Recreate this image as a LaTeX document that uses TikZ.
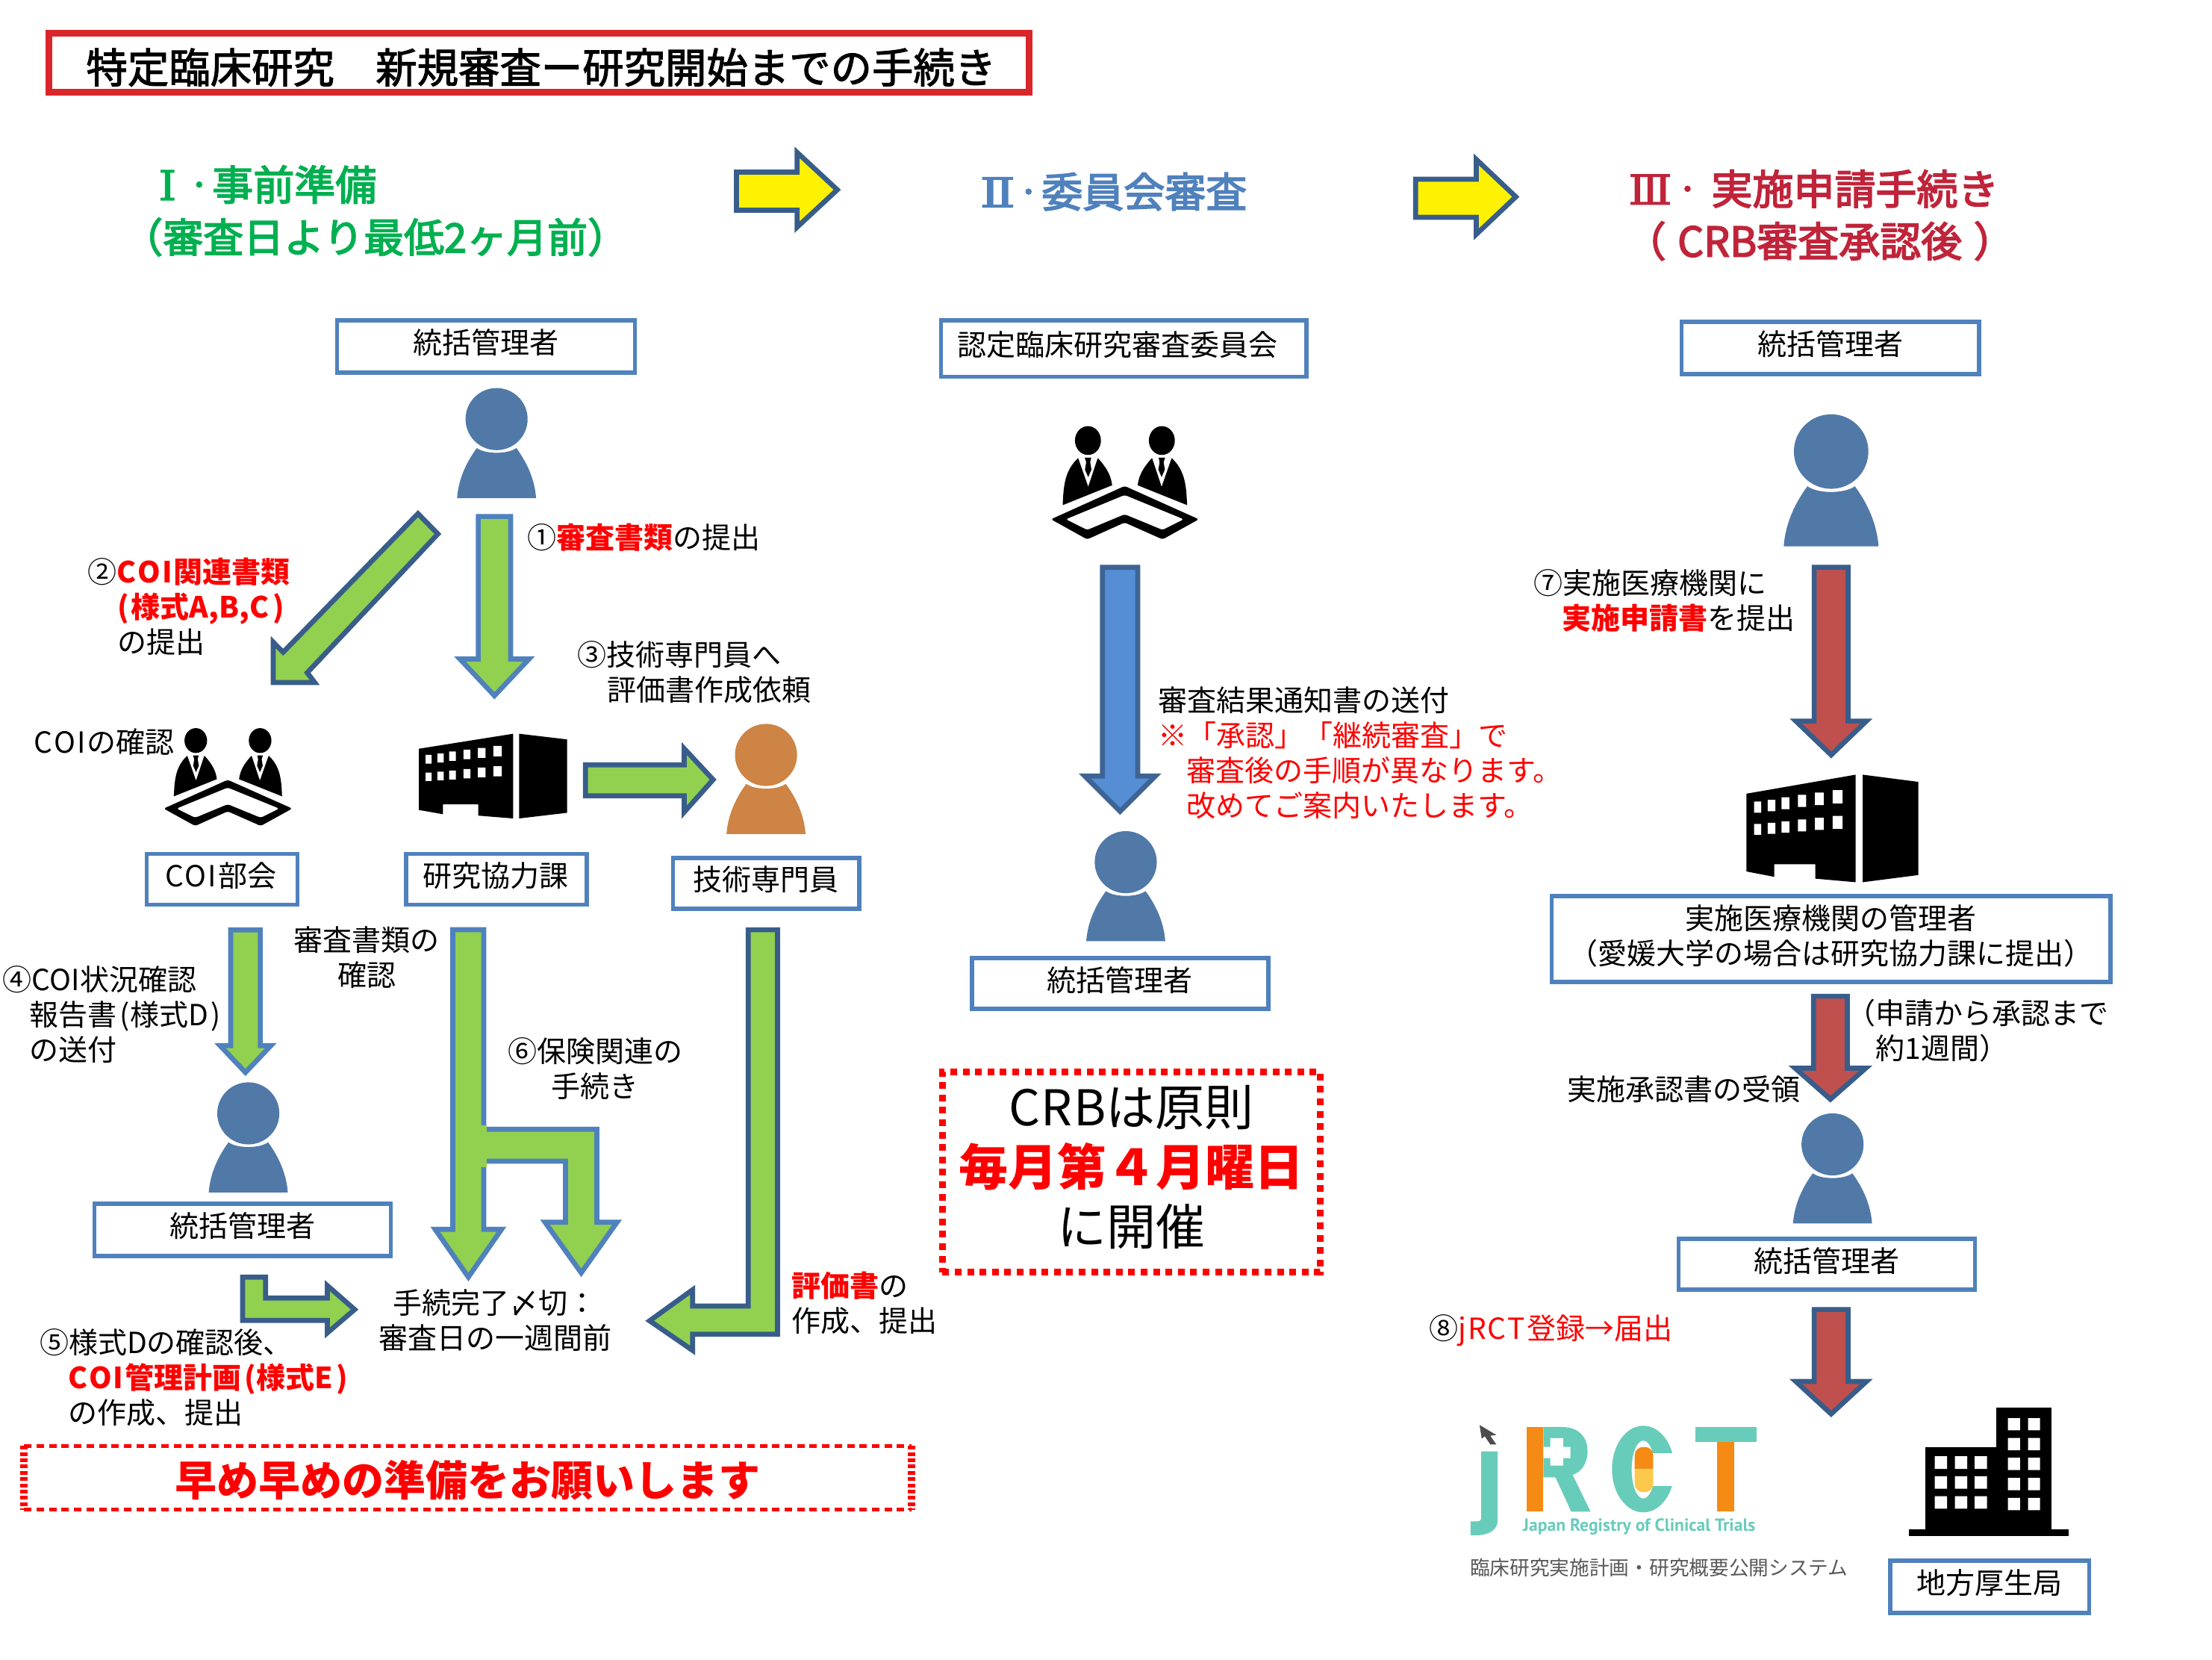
\documentclass[tikz,border=0pt]{standalone}
\usepackage{fontspec}
\setmainfont{Noto Sans CJK JP}
\newfontfamily\logofont{PT Sans}
\newfontfamily\headfont[FakeBold=3]{Noto Sans CJK JP}
\newfontfamily\titlefont[FakeBold=2]{Noto Sans CJK JP}
\newfontfamily\romanfont[FakeBold=2]{DejaVu Serif}
\definecolor{bluestroke}{HTML}{4F81BD}
\definecolor{darkstroke}{HTML}{385D8A}
\definecolor{arrowgreen}{HTML}{92D050}
\definecolor{arrowred}{HTML}{C0504D}
\definecolor{arrowblue}{HTML}{558ED5}
\definecolor{personblue}{HTML}{5079A8}
\definecolor{personorange}{HTML}{CD8444}
\definecolor{headgreen}{HTML}{00B050}
\definecolor{headred}{HTML}{C0243A}
\definecolor{titlered}{HTML}{D9262A}
\definecolor{logoteal}{HTML}{68CCBA}
\definecolor{logoorange}{HTML}{F58A14}
\definecolor{logoyellow}{HTML}{FDC94C}
\newcommand\rb[1]{\textcolor{red}{\textbf{#1}}}
\newcommand\cv{C\kern2pt O\kern2pt I\kern2pt}
\newcommand\hdot{\raisebox{7.6pt}{\fontsize{35pt}{40pt}\selectfont ・}}
\tikzset{
  lbltext/.style={inner sep=0pt,font=\fontsize{39pt}{47pt}\selectfont,text=black},
  headtext/.style={inner sep=0pt,font=\headfont\fontsize{55pt}{66pt}\selectfont,text height=48pt,text depth=7pt},
  ubox/.style={draw=bluestroke,line width=5.5pt,fill=white,inner sep=0pt,align=center,
    font=\fontsize{39pt}{47pt}\selectfont},
  greenarrow/.style={draw=darkstroke,line width=6.7pt,fill=arrowgreen,miter limit=10,line join=miter},
  greenarrowb/.style={draw=bluestroke,line width=6.7pt,fill=arrowgreen,miter limit=10},
  redarrow/.style={draw=darkstroke,line width=6.7pt,fill=arrowred,miter limit=10},
  bluearrow/.style={draw=darkstroke!80!bluestroke,line width=6.7pt,fill=arrowblue,miter limit=10},
  yellowarrow/.style={draw=darkstroke,line width=6.7pt,fill=yellow,miter limit=10},
  hdash/.style={draw=red,line width=5pt,dash pattern=on 10pt off 6.7pt},
  vdash/.style={draw=red,line width=10pt,dash pattern=on 5pt off 3.4pt},
}
% left-aligned and centred labels, y = centre of first line
\newcommand\lbl[4]{\node[lbltext,anchor=north west,align=left,yshift=19.2pt] (#1) at (#2,#3) {\rule{0pt}{34pt}#4};}
\newcommand\clbl[4]{\node[lbltext,anchor=north,align=center,yshift=19.2pt] (#1) at (#2,#3) {\rule{0pt}{34pt}#4};}
% box: name x1 y1 x2 y2 text
\newcommand\bluebox[6]{\node[ubox,minimum width={(#4-#2)*1.8897pt},minimum height={(#5-#3)*1.8897pt}] (#1) at ({(#2+#4)/2},{(#3+#5)/2}) {#6\rule[-13pt]{0pt}{13pt}};}
\newcommand\darrow[7]{\draw[#1] ({#2-#3},#4) -- ({#2+#3},#4) -- ({#2+#3},#5) -- ({#2+#6},#5) -- (#2,#7) -- ({#2-#6},#5) -- ({#2-#3},#5) -- cycle;}
\newcommand\personicon[4]{\begin{scope}[shift={(#1,#2)},scale=#3]
  \fill[#4] (0,0) circle (22);
  \fill[#4] (-28,56) .. controls (-27,42) and (-21,30) .. (-14,20.5) .. controls (-8,25) and (8,25) .. (14,20.5) .. controls (21,30) and (27,42) .. (28,56) -- cycle;
\end{scope}}
\newcommand\meetperson{
  \fill (148,58) ellipse [x radius=52,y radius=58];
  \fill (47,318) .. controls (50,240) and (55,180) .. (107,130) -- (189,130) .. controls (225,170) and (240,200) .. (245,238) -- cycle;
  \fill[white] (109,128) -- (187,128) -- (149,243) -- cycle;
  \fill (135,127) -- (161,127) -- (157,145) -- (162,175) -- (149,205) -- (136,175) -- (141,145) -- cycle;
}
\newcommand\meeting[4]{\begin{scope}[shift={(#1,#2)},xscale=#3,yscale=#4]
  \meetperson
  \begin{scope}[shift={(592,0)},xscale=-1]\meetperson\end{scope}
  \fill[even odd rule,rounded corners=3pt] (295,241) -- (592,375) -- (447,456) -- (295,388) -- (145,456) -- (0,375) -- cycle
    (295,277) -- (59,375) -- (145,418) -- (295,355) -- (447,418) -- (532,375) -- cycle;
\end{scope}}
\newcommand\bldgone[4]{\begin{scope}[shift={(#1,#2)},xscale=#3,yscale=#4]
  \fill (0,10.6) -- (66.7,0) -- (66.7,60) -- (42,58) -- (42,50) -- (17,50) -- (17,57) -- (0,54) -- cycle;
  \fill (71,0) -- (105,4) -- (105,56) -- (71,60) -- cycle;
  \fill[white] (4.7,15) rectangle +(4.3,6.2) (13,14) rectangle +(4.6,6.4) (21.4,12.6) rectangle +(4.8,6.6)
    (31.5,11.2) rectangle +(5,6.8) (41.8,10) rectangle +(5.4,7) (52.7,8.6) rectangle +(6,7.4)
    (4.7,27.5) rectangle +(4.3,6) (13,26.8) rectangle +(4.6,6.2) (21.4,26) rectangle +(4.8,6.4)
    (31.5,25) rectangle +(5,6.6) (41.8,24) rectangle +(5.4,6.8) (52.7,23) rectangle +(6,7.2);
\end{scope}}
\begin{document}
\begin{tikzpicture}[x=1.8897pt,y=-1.8897pt]
\useasboundingbox (0,0) rectangle (1568,1176.3);
\fill[white] (0,0) rectangle (1568,1176.3);

% title
\node[draw=titlered,line width=9pt,minimum width={695*1.8897pt},minimum height={42*1.8897pt},inner sep=0pt] (titlebox) at (382,44.5) {};
\node[inner sep=0pt,anchor=west,font=\titlefont\fontsize{55.4pt}{66pt}\selectfont,text height=48pt,text depth=7pt] (title) at (61,48) {特定臨床研究　新規審査ー研究開始までの手続き};

% headings
\node[headtext,headgreen,anchor=east] (h1a) at (267,131) {\scalebox{1.1}[1]{\romanfont Ⅰ}\kern13pt\hdot 事前準備};
\node[headtext,headgreen,font=\headfont\fontsize{54pt}{66pt}\selectfont] (h1b) at (266,168) {（審査日より最低2ヶ月前）};
\node[headtext,bluestroke,anchor=east] (h2) at (884,136) {\scalebox{1.28}[1]{\romanfont Ⅱ}\hdot 委員会審査};
\node[headtext,headred,anchor=east] (h3a) at (1417,134) {\scalebox{1.1}[1]{\romanfont Ⅲ}\kern3.3pt\hdot\kern14.5pt 実施申請手続き};
\node[headtext,headred] (h3b) at (1290,171) {（ \kern3pt CRB審査承認後 \kern3pt）};

% yellow arrows
\draw[yellowarrow] (522,122) -- (565,122) -- (565,108) -- (593.5,134.5) -- (565,161) -- (565,149) -- (522,149) -- cycle;
\draw[yellowarrow] (1003.5,127) -- (1046.5,127) -- (1046.5,113) -- (1074.5,139.5) -- (1046.5,166) -- (1046.5,154) -- (1003.5,154) -- cycle;

% boxes
\bluebox{b1}{239}{227}{450}{264}{統括管理者}
\bluebox{b2}{667}{227}{926}{267}{認定臨床研究審査委員会\hspace*{17pt}}
\bluebox{b3}{1192}{228}{1403}{265}{統括管理者}
\bluebox{b4}{104}{605}{211}{641}{\cv 部会\hspace*{4pt}}
\bluebox{b5}{288}{605}{416}{641}{研究協力課\hspace*{3pt}}
\bluebox{b6}{477}{608}{609}{644}{技術専門員}
\bluebox{b7}{689}{679}{899}{715}{統括管理者}
\bluebox{b8}{1100}{635}{1496}{696}{実施医療機関の管理者\\（愛媛大学の場合は研究協力課に提出）}
\bluebox{b9}{67}{853}{277}{890}{統括管理者}
\bluebox{b10}{1190}{878}{1400}{914}{統括管理者}
\bluebox{b11}{1340}{1106}{1481}{1143}{地方厚生局}

% persons
\personicon{352}{297}{1}{personblue}
\personicon{1298}{320}{1.2}{personblue}
\personicon{798}{611}{1}{personblue}
\personicon{176}{789}{1}{personblue}
\personicon{1299}{811}{1}{personblue}
\personicon{543}{535}{1}{personorange}

% meeting icons
\meeting{745}{302}{.177}{.176}
\meeting{116}{516}{.154}{.152}

% perspective buildings
\bldgone{297}{520}{1}{1}
\bldgone{1238}{549}{1.16}{1.27}

% office tower
\begin{scope}
  \fill (1353.2,1084) rectangle (1466.5,1088.3);
  \fill (1365,1025.7) rectangle (1415,1085);
  \fill (1415,997.7) rectangle (1454.3,1085);
  \fill[white] (1371.4,1032) rectangle (1380.2,1041) (1385.7,1032) rectangle (1394.5,1041) (1399.7,1032) rectangle (1408.5,1041)
   (1371.4,1046.2) rectangle (1380.2,1055) (1385.7,1046.2) rectangle (1394.5,1055) (1399.7,1046.2) rectangle (1408.5,1055)
   (1371.4,1060.3) rectangle (1380.2,1069.1) (1385.7,1060.3) rectangle (1394.5,1069.1) (1399.7,1060.3) rectangle (1408.5,1069.1)
   (1423.3,1005) rectangle (1431.9,1013.6) (1437.6,1005) rectangle (1446.1,1013.6)
   (1423.3,1019) rectangle (1431.9,1027.7) (1437.6,1019) rectangle (1446.1,1027.7)
   (1423.3,1033.1) rectangle (1431.9,1041.8) (1437.6,1033.1) rectangle (1446.1,1041.8)
   (1423.3,1047.3) rectangle (1431.9,1056) (1437.6,1047.3) rectangle (1446.1,1056)
   (1423.3,1061.5) rectangle (1431.9,1070.2) (1437.6,1061.5) rectangle (1446.1,1070.2);
\end{scope}

% jRCT logo
\begin{scope}[shift={(1016,973.7)},xscale={1/3.292},yscale={1/5.669}]
  \fill[black!70] (108,205) -- (147,245) -- (133,248) -- (147,283) -- (133,283) -- (120,250) -- (113,260) -- cycle;
  \fill[logoteal] (112,311) -- (150,311) -- (150,590) .. controls (150,625) and (130,648) .. (100,648) -- (87,648) -- (87,592) -- (100,592) .. controls (108,592) and (112,590) .. (112,575) -- cycle;
  \fill[logoteal] (257,213) -- (300,213) .. controls (340,213) and (360,255) .. (360,310) .. controls (360,360) and (345,395) .. (325,405) -- (367,553) -- (322,553) -- (285,415) -- (257,415) -- cycle;
  \fill[logoorange] (218,213) rectangle (257,553);
  \fill[white] (273,258) rectangle (303,368) (257,293) rectangle (320,338);
  \fill[logoteal] (490,382) ellipse [x radius=73,y radius=174];
  \fill[white] (490,384) ellipse [x radius=27,y radius=116];
  \fill[white] (490,318) rectangle (570,450);
  \fill[logoorange] (470,382) -- (470,325) .. controls (470,305) and (480,293) .. (491.5,293) .. controls (503,293) and (513,305) .. (513,325) -- (513,382) -- cycle;
  \fill[logoyellow] (470,382) -- (470,443) .. controls (470,463) and (480,475) .. (491.5,475) .. controls (503,475) and (513,463) .. (513,443) -- (513,382) -- cycle;
  \fill[logoteal] (612,213) rectangle (754,272);
  \fill[logoorange] (663,272) rectangle (702,553);
\end{scope}
\node[inner sep=0pt,text=logoteal,font=\logofont\bfseries\fontsize{23.6pt}{28pt}\selectfont] (logotext) at (1162,1082) {Japan Registry of Clinical Trials};
\node[inner sep=0pt,text=black!65,font=\fontsize{26.7pt}{32pt}\selectfont] (logosub) at (1176,1111) {臨床研究実施計画・研究概要公開システム};

% green arrows
\darrow{greenarrowb}{350.5}{11.5}{366}{467}{24.5}{493}
\draw[greenarrow] (296.3,364) -- (310.4,378.4) -- (217.8,476.7) -- (223.1,483.7) -- (193.7,483.7) -- (193.7,455.1) -- (200.7,462.2) -- cycle;
\draw[greenarrow] (415,542) -- (485,542) -- (485,530.5) -- (505.5,552.5) -- (485,575.5) -- (485,564) -- (415,564) -- cycle;
\darrow{greenarrowb}{174}{10.5}{659}{741}{18}{760}
% the branching arrow
\draw[greenarrowb] (321,658.8) -- (342.9,658.8) -- (342.9,871.2) -- (355.5,871.2) -- (332,905) -- (308.5,871.2) -- (321,871.2) -- cycle;
\draw[greenarrowb] (343,800.3) -- (423.1,800.3) -- (423.1,866.1) -- (437.4,866.1) -- (412,902) -- (386.3,866.1) -- (400.9,866.1) -- (400.9,822.9) -- (343,822.9) -- cycle;
\fill[arrowgreen] (338,797.3) rectangle (345,827.3);
\draw[greenarrow] (530.4,658.9) -- (551.1,658.9) -- (551.1,945.5) -- (491,945.5) -- (491,957) -- (460.5,936) -- (491,914) -- (491,925.5) -- (530.4,925.5) -- cycle;
\draw[greenarrow] (172,905) -- (188.3,905) -- (188.3,919.9) -- (232,919.9) -- (232,911) -- (251.4,928) -- (232,944.6) -- (232,935.7) -- (172,935.7) -- cycle;

% blue and red arrows
\darrow{bluearrow}{794}{12.5}{402}{550}{25}{575}
\darrow{redarrow}{1298}{12}{402}{511}{25}{535}
\darrow{redarrow}{1297.5}{12}{706}{757}{25}{779}
\darrow{redarrow}{1298}{12}{928}{979}{25}{1002}

% labels
\lbl{l1}{374}{381}{①\rb{審査書類}の提出}
\lbl{l2}{62}{405}{②\rb{\cv 関連書類}\\\hspace*{40pt}\rb{(\kern3pt 様式A,B,C\kern5pt)}\\\hspace*{40pt}の提出}
\lbl{l3}{409}{464}{③技術専門員へ\\\hspace*{40pt}評価書作成依頼}
\lbl{l4}{24}{526}{\cv の確認}
\lbl{l5}{2}{694}{④COI状況確認\\\hspace*{36pt}報告書\kern4pt(様式D\kern4pt)\kern4pt\\\hspace*{36pt}の送付}
\clbl{l6}{260}{666}{審査書類の\\確認}
\clbl{l7}{422}{745}{⑥保険関連の\\手続き}
\clbl{l8}{351}{923}{手続完了〆切：\\審査日の一週間前}
\lbl{l9}{561}{911}{\rb{評価書}の\\作成、提出}
\lbl{l10}{28}{951}{⑤様式Dの確認後、\\\hspace*{38pt}\rb{\cv 管理計画\kern4pt(様式E\kern5pt)}\\\hspace*{38pt}の作成、提出}
\lbl{l11}{821}{496}{審査結果通知書の送付\\\textcolor{red}{※「承認」「継続審査」で}\\\hspace*{38pt}\textcolor{red}{審査後の手順が異なります。}\\\hspace*{38pt}\textcolor{red}{改めてご案内いたします。}}
\lbl{l12}{1087}{413}{⑦実施医療機関に\\\hspace*{38pt}\rb{実施申請書}を提出}
\lbl{l13}{1309}{718}{（申請から承認まで\\\hspace*{39pt}約1週間）}
\lbl{l14}{1111}{772}{実施承認書の受領}
\lbl{l15}{1013}{941}{⑧\textcolor{red}{j\kern2pt R\kern2pt C\kern2pt T\kern2pt 登録→届出}}

% notice boxes
\node[minimum width={629*1.8897pt},minimum height={45*1.8897pt},inner sep=0pt,font=\fontsize{56pt}{66pt}\selectfont\bfseries,text=red] (notice1) at (331.7,1047.2) {\rule{0pt}{55pt}早め早めの準備をお願いします};
\draw[hdash] (notice1.north west) -- (notice1.north east);
\draw[hdash] (notice1.south west) -- (notice1.south east);
\draw[vdash] (notice1.north west) -- (notice1.south west);
\draw[vdash] (notice1.north east) -- (notice1.south east);
\node[draw=red,line width=9pt,dash pattern=on 9pt off 7.6pt,minimum width={268*1.8897pt},minimum height={142*1.8897pt},inner sep=0pt,align=center,font=\fontsize{66pt}{80pt}\selectfont] (notice2) at (802,830.7) {C\kern1.5pt R\kern1.5pt Bは原則\\\textcolor{red}{\textbf{毎月第４月曜日}}\\に開催\rule[-19pt]{0pt}{19pt}};
\end{tikzpicture}
\end{document}
